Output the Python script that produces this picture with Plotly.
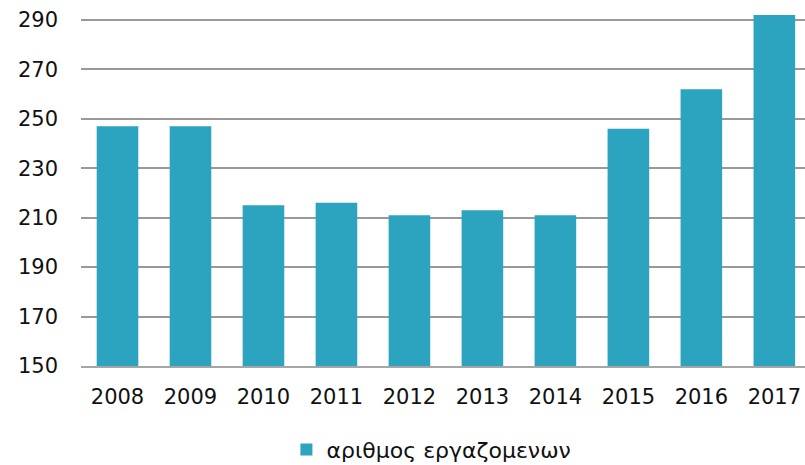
import plotly.graph_objects as go

years = ["2008", "2009", "2010", "2011", "2012", "2013", "2014", "2015", "2016", "2017"]
employees = [247, 247, 215, 216, 211, 213, 211, 246, 262, 292]
series_name = "αριθμος εργαζομενων"
y_ticks = [150, 170, 190, 210, 230, 250, 270, 290]

fig = go.Figure()
fig.add_trace(go.Bar(
    x=years, y=employees, name=series_name,
    marker=dict(color="#2CA3BF", line=dict(width=0)),
    width=0.57,
))

fig.update_layout(
    width=805, height=465,
    margin=dict(l=81, r=0, t=15, b=99, autoexpand=False),
    paper_bgcolor="white", plot_bgcolor="white",
    font=dict(family="DejaVu Sans", size=21, color="#111111"),
    showlegend=True,
    legend=dict(orientation="h", x=0.484, xanchor="center",
                yref="container", y=0.033, yanchor="middle",
                font=dict(size=22), itemwidth=30),
    xaxis=dict(type="category", range=[-0.5, 9.42], showgrid=False,
               showline=True, linecolor="#A6A6A6", linewidth=2,
               ticks="", ticklabelstandoff=11, automargin=False,
               tickfont=dict(size=21)),
    yaxis=dict(range=[150, 292], tickvals=y_ticks, showgrid=True,
               gridcolor="#999999", gridwidth=2, zeroline=False,
               ticks="", ticklabelstandoff=22, automargin=False,
               tickfont=dict(size=21)),
)

fig.write_html("out.html",
               config={"displayModeBar": False},
               post_script="document.body.style.margin='0';document.body.style.overflow='hidden';")
